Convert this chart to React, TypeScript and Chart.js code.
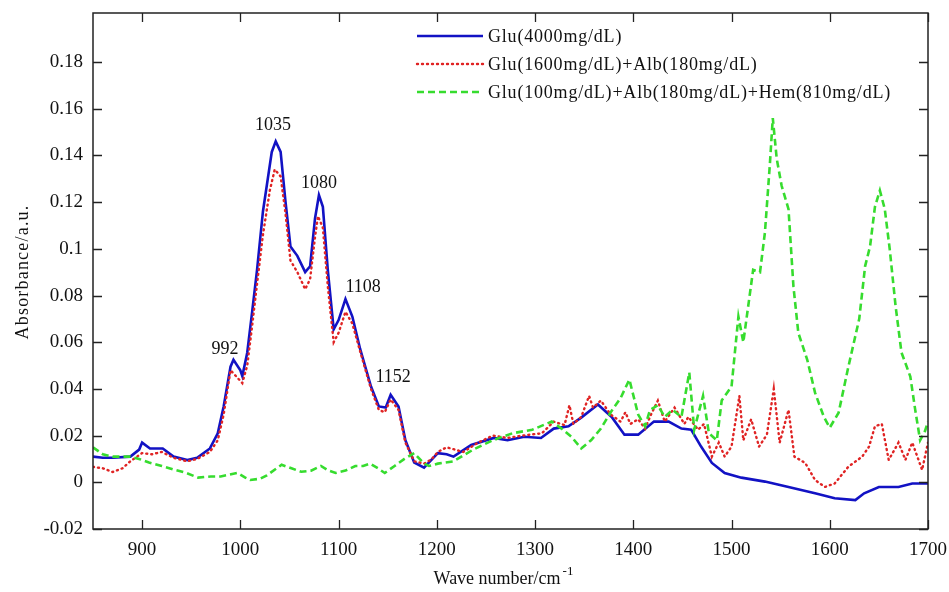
import { useEffect, useRef } from 'react';
import { Chart, registerables } from 'chart.js';

Chart.register(...registerables);

// ---- Data (wave number / absorbance) ----
const glu4000X = [850, 860, 870, 888, 897, 900, 908, 921, 932, 946, 956, 969, 977, 983, 990, 993, 1000, 1002, 1007, 1012, 1017, 1023, 1032, 1036, 1041, 1046, 1051, 1058, 1066, 1071, 1076, 1080, 1084, 1089, 1095, 1100, 1107, 1114, 1122, 1133, 1141, 1148, 1153, 1161, 1168, 1177, 1187, 1201, 1210, 1217, 1235, 1258, 1272, 1289, 1306, 1319, 1334, 1347, 1364, 1378, 1391, 1405, 1421, 1436, 1449, 1459, 1469, 1480, 1493, 1510, 1534, 1558, 1585, 1605, 1626, 1635, 1650, 1670, 1684, 1700];
const glu4000Y = [0.011, 0.0105, 0.0105, 0.011, 0.014, 0.017, 0.0145, 0.0145, 0.011, 0.0095, 0.0105, 0.0145, 0.021, 0.0325, 0.0495, 0.0525, 0.048, 0.0455, 0.0555, 0.073, 0.091, 0.116, 0.1415, 0.146, 0.1415, 0.12, 0.101, 0.097, 0.09, 0.0925, 0.113, 0.123, 0.118, 0.091, 0.0655, 0.0695, 0.0785, 0.071, 0.057, 0.041, 0.0325, 0.032, 0.0375, 0.0325, 0.018, 0.0085, 0.0063, 0.0125, 0.012, 0.011, 0.016, 0.019, 0.018, 0.0195, 0.019, 0.023, 0.024, 0.0277, 0.0333, 0.028, 0.0204, 0.0204, 0.026, 0.026, 0.023, 0.0225, 0.0153, 0.0083, 0.004, 0.002, 0.0003, -0.002, -0.0047, -0.0068, -0.0076, -0.0047, -0.002, -0.002, -0.0005, -0.0005];

const glu1600X = [850, 860, 870, 880, 888, 900, 910, 920, 932, 946, 956, 969, 977, 983, 990, 1002, 1007, 1012, 1017, 1023, 1030, 1035, 1041, 1046, 1051, 1058, 1066, 1071, 1076, 1079, 1084, 1089, 1095, 1100, 1107, 1114, 1122, 1133, 1141, 1147, 1153, 1161, 1168, 1177, 1187, 1195, 1201, 1210, 1227, 1242, 1257, 1272, 1287, 1307, 1319, 1330, 1335, 1339, 1347, 1355, 1359, 1367, 1377, 1387, 1392, 1397, 1405, 1412, 1418, 1425, 1432, 1442, 1452, 1456, 1466, 1472, 1480, 1487, 1493, 1500, 1508, 1512, 1520, 1528, 1536, 1543, 1549, 1558, 1564, 1575, 1585, 1595, 1605, 1619, 1633, 1640, 1646, 1653, 1660, 1670, 1677, 1684, 1694, 1700];
const glu1600Y = [0.0066, 0.006, 0.0044, 0.006, 0.009, 0.0125, 0.012, 0.013, 0.0105, 0.009, 0.01, 0.013, 0.018, 0.029, 0.048, 0.0425, 0.05, 0.067, 0.085, 0.106, 0.125, 0.134, 0.131, 0.115, 0.095, 0.09, 0.0827, 0.087, 0.105, 0.114, 0.109, 0.084, 0.06, 0.064, 0.073, 0.068, 0.056, 0.04, 0.031, 0.03, 0.0355, 0.031, 0.017, 0.009, 0.008, 0.01, 0.013, 0.015, 0.013, 0.017, 0.02, 0.019, 0.02, 0.021, 0.026, 0.0245, 0.033, 0.025, 0.028, 0.037, 0.032, 0.035, 0.029, 0.026, 0.03, 0.025, 0.027, 0.023, 0.029, 0.035, 0.026, 0.032, 0.025, 0.028, 0.0225, 0.025, 0.011, 0.017, 0.011, 0.0153, 0.037, 0.018, 0.027, 0.0153, 0.0204, 0.04, 0.017, 0.031, 0.011, 0.0083, 0.001, -0.002, -0.0005, 0.0067, 0.011, 0.0153, 0.024, 0.025, 0.0096, 0.017, 0.0096, 0.017, 0.0053, 0.017];

const glu100X = [850, 860, 870, 888, 897, 907, 920, 932, 945, 957, 970, 980, 997, 1005, 1010, 1020, 1027, 1042, 1052, 1062, 1072, 1082, 1090, 1097, 1107, 1117, 1125, 1132, 1140, 1147, 1157, 1167, 1177, 1187, 1192, 1201, 1217, 1237, 1257, 1277, 1297, 1317, 1327, 1337, 1347, 1357, 1367, 1377, 1387, 1396, 1405, 1412, 1417, 1425, 1432, 1440, 1449, 1457, 1462, 1471, 1477, 1485, 1490, 1500, 1507, 1512, 1517, 1522, 1529, 1534, 1539, 1542, 1546, 1551, 1558, 1563, 1568, 1577, 1585, 1594, 1600, 1609, 1619, 1630, 1636, 1641, 1646, 1651, 1656, 1661, 1667, 1673, 1682, 1687, 1692, 1697, 1700];
const glu100Y = [0.015, 0.012, 0.011, 0.011, 0.01, 0.0085, 0.007, 0.0055, 0.004, 0.002, 0.0025, 0.0025, 0.004, 0.002, 0.001, 0.0015, 0.003, 0.0075, 0.006, 0.0045, 0.005, 0.007, 0.005, 0.004, 0.005, 0.007, 0.007, 0.008, 0.006, 0.004, 0.007, 0.01, 0.0125, 0.008, 0.007, 0.008, 0.009, 0.014, 0.018, 0.021, 0.0225, 0.026, 0.023, 0.0195, 0.0145, 0.018, 0.023, 0.03, 0.036, 0.044, 0.029, 0.024, 0.031, 0.033, 0.028, 0.031, 0.028, 0.047, 0.0225, 0.037, 0.021, 0.018, 0.035, 0.041, 0.071, 0.06, 0.0755, 0.091, 0.09, 0.107, 0.136, 0.156, 0.1386, 0.127, 0.117, 0.084, 0.064, 0.0526, 0.0384, 0.028, 0.0234, 0.0298, 0.0496, 0.07, 0.0926, 0.101, 0.118, 0.125, 0.117, 0.1, 0.0755, 0.0556, 0.0453, 0.031, 0.018, 0.022, 0.026];

const seriesLabels = [
  'Glu(4000mg/dL)',
  'Glu(1600mg/dL)+Alb(180mg/dL)',
  'Glu(100mg/dL)+Alb(180mg/dL)+Hem(810mg/dL)',
];

const peakLabels = ['992', '1035', '1080', '1108', '1152'];
const peakLabelX = [984.4, 1033.3, 1080.1, 1125, 1155.5];
const peakLabelY = [0.0571, 0.153, 0.1282, 0.0836, 0.0451];

const xTickValues = [900, 1000, 1100, 1200, 1300, 1400, 1500, 1600, 1700];
const yTickValues = [-0.02, 0, 0.02, 0.04, 0.06, 0.08, 0.1, 0.12, 0.14, 0.16, 0.18];

const FONT = '"Liberation Serif", "Times New Roman", serif';

function toPoints(xs: number[], ys: number[]) {
  return xs.map((x, i) => ({ x, y: ys[i] }));
}

function zeroPadding(axis: any) {
  axis.paddingTop = 0;
  axis.paddingBottom = 0;
  axis.paddingLeft = 0;
  axis.paddingRight = 0;
}

const decorPlugin = {
  id: 'decor',
  afterDatasetsDraw(chart: any) {
    const { ctx, chartArea: a, scales } = chart;
    const sx = scales.x;
    const sy = scales.y;
    ctx.save();
    // frame
    ctx.strokeStyle = '#222';
    ctx.lineWidth = 1.5;
    ctx.setLineDash([]);
    ctx.strokeRect(a.left, a.top, a.right - a.left, a.bottom - a.top);
    // inward ticks
    const L = 9;
    ctx.lineWidth = 1.3;
    ctx.beginPath();
    for (const v of xTickValues) {
      const px = Math.round(sx.getPixelForValue(v)) + 0.5;
      ctx.moveTo(px, a.bottom);
      ctx.lineTo(px, a.bottom - L);
      ctx.moveTo(px, a.top);
      ctx.lineTo(px, a.top + L);
    }
    for (const v of yTickValues) {
      const py = Math.round(sy.getPixelForValue(v)) + 0.5;
      ctx.moveTo(a.left, py);
      ctx.lineTo(a.left + L, py);
      ctx.moveTo(a.right, py);
      ctx.lineTo(a.right - L, py);
    }
    ctx.stroke();

    // peak labels
    ctx.fillStyle = '#111';
    ctx.font = `18px ${FONT}`;
    ctx.textAlign = 'center';
    ctx.textBaseline = 'middle';
    peakLabels.forEach((t, i) => {
      ctx.fillText(t, sx.getPixelForValue(peakLabelX[i]), sy.getPixelForValue(peakLabelY[i]));
    });

    // legend
    const rows = [36, 64, 92];
    chart.data.datasets.forEach((ds: any, i: number) => {
      ctx.save();
      ctx.strokeStyle = ds.borderColor;
      ctx.lineWidth = ds.borderWidth;
      ctx.lineCap = ds.borderCapStyle || 'butt';
      ctx.setLineDash(ds.borderDash || []);
      ctx.beginPath();
      ctx.moveTo(417, rows[i]);
      ctx.lineTo(483, rows[i]);
      ctx.stroke();
      ctx.restore();
      ctx.save();
      ctx.fillStyle = '#111';
      ctx.font = `18px ${FONT}`;
      (ctx as any).letterSpacing = '0.8px';
      ctx.textAlign = 'left';
      ctx.textBaseline = 'middle';
      ctx.fillText(ds.label, 488, rows[i] + 1);
      ctx.restore();
    });

    // y axis title
    ctx.save();
    ctx.translate(23, 272);
    ctx.rotate(-Math.PI / 2);
    ctx.textAlign = 'center';
    ctx.textBaseline = 'middle';
    ctx.font = `18px ${FONT}`;
    (ctx as any).letterSpacing = '1.2px';
    ctx.fillText('Absorbance/a.u.', 0, 0);
    ctx.restore();

    // x axis title with superscript
    ctx.font = `18px ${FONT}`;
    const main = 'Wave number/cm';
    const sup = '-1';
    const wMain = ctx.measureText(main).width;
    ctx.font = `13px ${FONT}`;
    const wSup = ctx.measureText(sup).width;
    const cx = (a.left + a.right) / 2 - 7;
    const start = cx - (wMain + wSup + 2) / 2;
    ctx.textAlign = 'left';
    ctx.textBaseline = 'alphabetic';
    ctx.font = `18px ${FONT}`;
    ctx.fillText(main, start, 584);
    ctx.font = `13px ${FONT}`;
    ctx.fillText(sup, start + wMain + 2, 575);
    ctx.restore();
  },
};

export default function App() {
  const ref = useRef<HTMLCanvasElement | null>(null);

  useEffect(() => {
    document.body.style.margin = '0';
    const canvas = ref.current;
    if (!canvas) return;
    const chart = new Chart(canvas, {
      type: 'line',
      data: {
        datasets: [
          {
            label: seriesLabels[0],
            data: toPoints(glu4000X, glu4000Y),
            borderColor: '#1212c4',
            borderWidth: 2.6,
            pointRadius: 0,
            tension: 0,
            order: 3,
          },
          {
            label: seriesLabels[1],
            data: toPoints(glu1600X, glu1600Y),
            borderColor: '#e02424',
            borderWidth: 2.4,
            borderDash: [1, 4],
            borderCapStyle: 'round',
            pointRadius: 0,
            tension: 0,
            order: 2,
          },
          {
            label: seriesLabels[2],
            data: toPoints(glu100X, glu100Y),
            borderColor: '#36dc2e',
            borderWidth: 2.6,
            borderDash: [7, 4],
            pointRadius: 0,
            tension: 0,
            order: 1,
          },
        ] as any,
      },
      options: {
        animation: false,
        responsive: false,
        maintainAspectRatio: false,
        layout: { padding: { left: 0, top: 13, right: 21, bottom: 0 } },
        plugins: {
          legend: { display: false },
          tooltip: { enabled: false },
          title: { display: false },
        },
        scales: {
          x: {
            type: 'linear',
            min: 850,
            max: 1700,
            grid: { display: false, drawTicks: false },
            border: { display: false },
            afterBuildTicks: (axis: any) => {
              axis.ticks = xTickValues.map((v) => ({ value: v }));
            },
            afterFit: (axis: any) => {
              axis.height = 63;
              zeroPadding(axis);
            },
            ticks: {
              color: '#111',
              font: { family: FONT, size: 19 },
              padding: 10,
              maxRotation: 0,
              autoSkip: false,
              callback: (v: any) => String(v),
            },
          },
          y: {
            type: 'linear',
            min: -0.02,
            max: 0.201,
            grid: { display: false, drawTicks: false },
            border: { display: false },
            afterBuildTicks: (axis: any) => {
              axis.ticks = yTickValues.map((v) => ({ value: v }));
            },
            afterFit: (axis: any) => {
              axis.width = 93;
              zeroPadding(axis);
            },
            ticks: {
              color: '#111',
              font: { family: FONT, size: 19 },
              padding: 10,
              autoSkip: false,
              callback: (v: any) => String(Number(Number(v).toFixed(2))),
            },
          },
        },
      } as any,
      plugins: [decorPlugin],
    });
    return () => chart.destroy();
  }, []);

  return (
    <div style={{ width: 949, height: 592, background: '#fff' }}>
      <canvas ref={ref} width={949} height={592} style={{ display: 'block' }} />
    </div>
  );
}
